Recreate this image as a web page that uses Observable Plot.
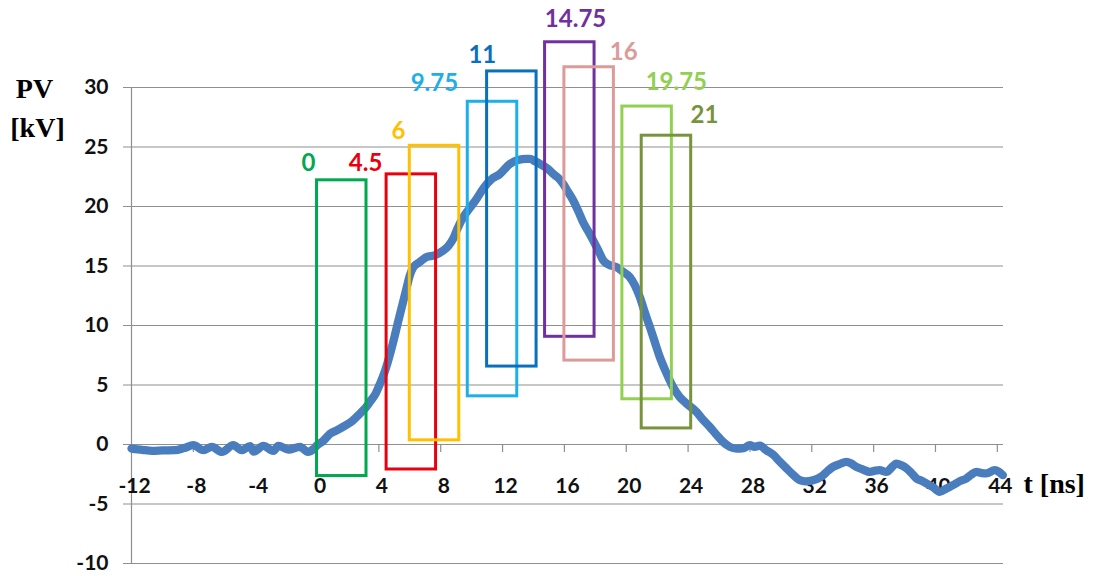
<!DOCTYPE html>
<html>
<head>
<meta charset="utf-8">
<script src="https://cdn.jsdelivr.net/npm/d3@7"></script>
<script src="https://cdn.jsdelivr.net/npm/@observablehq/plot@0.6"></script>
<style>
  html, body { margin: 0; padding: 0; background: #fff; }
  #chart svg { display: block; overflow: visible; }
</style>
</head>
<body>
<div id="chart"></div>
<script>
// Pulse voltage trace: time (ns) and voltage (kV)
const timeNs = [
  -12, -11.3, -10.65, -10, -9.2, -8.6, -8.0, -7.35, -6.8, -6.16, -5.41, -4.87, -4.33, -4.1,
  -3.47, -2.82, -2.5, -1.86, -1.1, -0.6, -0.2, 0, 0.4, 0.84, 1.3, 1.7, 2.3, 2.78, 3.15, 3.43,
  3.8, 4.07, 4.4, 4.72, 5.0, 5.26, 5.55, 5.8, 6.0, 6.23, 6.6, 7.09, 7.6, 8.16, 8.5, 8.81,
  9.1, 9.46, 9.9, 10.32, 10.8, 11.29, 11.8, 12.48, 13.0, 13.55, 13.77, 14.1, 14.52, 14.9,
  15.27, 15.6, 15.92, 16.25, 16.57, 16.9, 17.21, 17.55, 17.86, 18.2, 18.51, 18.9, 19.37,
  19.8, 20.23, 20.55, 20.88, 21.2, 21.53, 21.85, 22.17, 22.6, 23.03, 23.45, 23.9, 24.54,
  24.95, 25.4, 25.85, 26.26, 26.7, 27.13, 27.6, 27.99, 28.3, 28.64, 29.07, 29.5, 29.9,
  30.36, 30.8, 31.22, 31.6, 32.08, 32.4, 32.73, 33.05, 33.37, 33.8, 34.24, 34.55, 34.88,
  35.3, 35.75, 36.1, 36.39, 36.83, 37.15, 37.47, 37.8, 38.12, 38.45, 38.77, 39.1, 39.41,
  39.85, 40.27, 40.7, 41.13, 41.55, 42.0, 42.3, 42.64, 43.0, 43.29, 43.83, 44.1, 44.36
];
const voltageKV = [
  -0.34, -0.45, -0.53, -0.5, -0.48, -0.3, -0.06, -0.48, -0.2, -0.62, -0.06, -0.48, -0.14, -0.6,
  -0.12, -0.53, -0.12, -0.42, -0.2, -0.62, -0.35, -0.06, 0.3, 0.9, 1.2, 1.5, 2.0, 2.6, 3.1, 3.6,
  4.3, 5.1, 6.2, 7.6, 9.0, 10.4, 11.9, 13.2, 14.2, 14.9, 15.3, 15.75, 15.9, 16.3, 16.7, 17.3,
  18.2, 19.1, 19.9, 20.65, 21.6, 22.3, 22.7, 23.58, 23.9, 24.0, 24.0, 23.8, 23.5, 23.2,
  22.74, 22.4, 21.9, 21.2, 20.5, 19.6, 18.68, 17.9, 17.15, 16.3, 15.47, 15.1, 14.9,
  14.5, 14.07, 13.4, 12.39, 11.1, 9.87, 8.6, 7.35, 6.0, 4.83, 4.0, 3.44, 2.74,
  2.1, 1.48, 0.8, 0.22, -0.2, -0.34, -0.3, -0.06, -0.2, -0.1, -0.5, -0.85, -1.4,
  -2.0, -2.55, -3.0, -3.1, -3.0, -2.85, -2.58, -2.2, -1.88, -1.65, -1.46, -1.6, -1.88,
  -2.1, -2.3, -2.2, -2.16, -2.3, -1.95, -1.6, -1.75, -2.0, -2.4, -2.85, -3.05, -3.27,
  -3.6, -3.98, -3.7, -3.42, -3.1, -2.85, -2.55, -2.3, -2.4, -2.43, -2.16, -2.3, -2.58
];

// Camera gate windows: opening time (ns), vertical extent (kV)
const gateTimes    = [0, 4.5, 6, 9.75, 11, 14.75, 16, 19.75, 21];
const gateTopKV    = [22.2, 22.7, 25.1, 28.8, 31.35, 33.8, 31.7, 28.4, 25.95];
const gateBottomKV = [-2.65, -2.1, 0.35, 4.05, 6.55, 9.05, 7.05, 3.8, 1.35];
const gateWidthNs  = 3.2;

// Where each gate's time label sits (ns, kV)
const gateLabelNs = [-0.55, 3.14, 5.27, 7.59, 10.69, 16.72, 19.84, 23.24, 25.06];
const gateLabelKV = [23.6, 23.6, 26.34, 30.38, 32.67, 35.71, 32.95, 30.43, 27.64];

const gateColors = ["#00a850", "#e8000e", "#ffc000", "#1cb0ea", "#0a6fbd",
                    "#7030a0", "#dc9a98", "#92d050", "#77933c"];

// Axis ticks
const xTicks = [-12, -8, -4, 0, 4, 8, 12, 16, 20, 24, 28, 32, 36, 40, 44];
const yTicks = [-10, -5, 0, 5, 10, 15, 20, 25, 30];

const trace = timeNs.map((t, i) => ({t, v: voltageKV[i]}));
const gates = gateTimes.map((t, i) => ({
  t,
  top: gateTopKV[i],
  bottom: gateBottomKV[i],
  lx: gateLabelNs[i],
  ly: gateLabelKV[i],
  color: gateColors[i]
}));

const X_MIN = -12, X_MAX = 44.4;
const gridColor = "#8f8f8f";
const sans = "Lato, 'Open Sans', sans-serif";
const serif = "'Liberation Serif', 'DejaVu Serif', serif";

const chart = Plot.plot({
  width: 1096,
  height: 576,
  marginLeft: 131,
  marginRight: 93,
  marginTop: 87,
  marginBottom: 13,
  style: {background: "#fff", overflow: "visible", fontFamily: sans},
  x: {domain: [X_MIN, X_MAX], axis: null},
  y: {domain: [-10, 30], axis: null},
  color: {type: "identity"},
  marks: [
    // horizontal gridlines, each with its short tick left of the axis
    Plot.ruleY(yTicks, {y: d => d, x1: () => X_MIN, x2: () => X_MAX, stroke: gridColor, strokeWidth: 1.2, insetLeft: -8}),
    // vertical axis line
    Plot.ruleX([X_MIN], {x: d => d, y1: () => -10, y2: () => 30, stroke: gridColor, strokeWidth: 1.2}),
    // x ticks hanging below the zero line
    Plot.ruleX(xTicks, {x: d => d, y1: () => 0, y2: () => 0, insetBottom: -8, stroke: gridColor, strokeWidth: 1.2}),
    // y tick labels
    Plot.text(yTicks, {
      x: () => X_MIN, y: d => d, text: d => String(d), textAnchor: "end", dx: -23,
      fontSize: 21, fontWeight: "bold", fill: "#111", fontFamily: sans
    }),
    // x tick labels, set along the zero line
    Plot.text(xTicks, {
      x: d => d, y: () => 0, text: d => String(d), dx: 3, dy: 42,
      fontSize: 21, fontWeight: "bold", fill: "#111", fontFamily: sans
    }),
    // voltage trace
    Plot.line(trace, {
      x: "t", y: "v", stroke: "#4a7dbd", strokeWidth: 8.3,
      strokeLinejoin: "round", strokeLinecap: "round", curve: "monotone-x"
    }),
    // gate windows
    Plot.rect(gates, {
      x1: "t", x2: d => d.t + gateWidthNs, y1: "bottom", y2: "top",
      fill: "none", stroke: "color", strokeWidth: 3
    }),
    // gate time labels
    Plot.text(gates, {
      x: "lx", y: "ly", text: d => String(d.t), fill: "color",
      fontSize: 24, fontWeight: "bold", fontFamily: sans
    }),
    // axis titles
    Plot.text(["PV"], {
      frameAnchor: "top-left", text: d => d, textAnchor: "middle", lineAnchor: "middle",
      dx: -97, dy: 2,
      fontSize: 28, fontWeight: "bold", fontFamily: serif, fill: "#000"
    }),
    Plot.text(["[kV]"], {
      frameAnchor: "top-left", text: d => d, textAnchor: "middle", lineAnchor: "middle",
      dx: -94, dy: 41,
      fontSize: 28, fontWeight: "bold", fontFamily: serif, fill: "#000"
    }),
    Plot.text(["t [ns]"], {
      x: () => X_MAX, y: () => 0, text: d => d, textAnchor: "start", lineAnchor: "middle",
      dx: 20, dy: 40,
      fontSize: 28, fontWeight: "bold", fontFamily: serif, fill: "#000"
    })
  ]
});

document.getElementById("chart").appendChild(chart);
</script>
</body>
</html>
